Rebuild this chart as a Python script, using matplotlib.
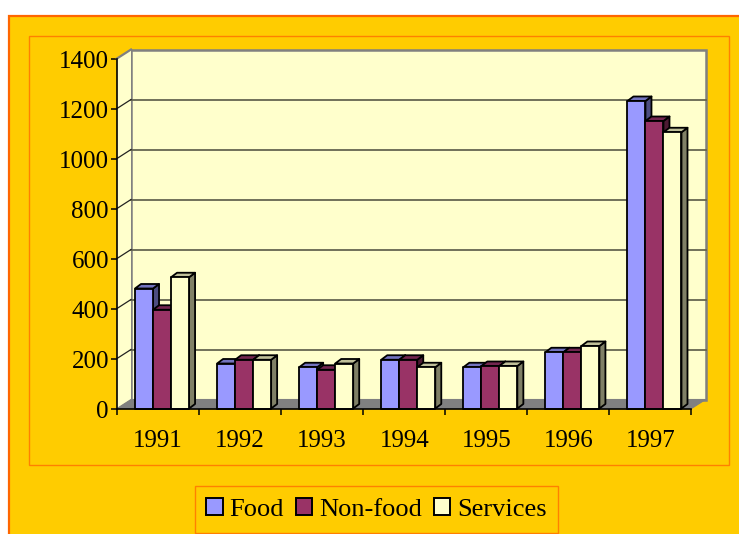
"""Excel-style pseudo 3D clustered bars: food, non-food, services."""

import matplotlib

matplotlib.use("Agg")
import matplotlib.pyplot as plt
from matplotlib.patches import Patch, Polygon, Rectangle
from matplotlib.transforms import Affine2D

years = ["1991", "1992", "1993", "1994", "1995", "1996", "1997"]
food = [480, 180, 165, 195, 165, 225, 1230]
non_food = [395, 195, 155, 195, 170, 225, 1150]
services = [525, 195, 180, 165, 170, 250, 1105]
series_names = ["Food", "Non-food", "Services"]
y_ticks = [0, 200, 400, 600, 800, 1000, 1200, 1400]

W, H = 739, 534
YELLOW = "#FFCC00"
CREAM = "#FFFFCC"
GREY = "#808080"
FACE = ["#9999FF", "#993366", "#FFFFCC"]
TOP = ["#7373BF", "#732650", "#BFBF99"]
SIDE = ["#4D4D80", "#4D1A33", "#808066"]

plt.rcParams["font.family"] = ["Liberation Serif", "DejaVu Serif"]


def px_rect(x0, y0, x1, y1, **kw):
    # pixel box, y measured from the top of the image
    return Rectangle((x0 / W, 1 - y1 / H), (x1 - x0) / W, (y1 - y0) / H,
                     transform=fig.transFigure, zorder=-1, **kw)


fig = plt.figure(figsize=(W / 100, H / 100), dpi=100, facecolor="white")
fig.add_artist(px_rect(9, 15.5, W + 5, H + 5, facecolor=YELLOW, edgecolor="#FF6600", linewidth=1.6))
fig.add_artist(px_rect(29, 35.5, 728.5, 464.5, facecolor="none", edgecolor="#FF8000", linewidth=1))

ax = fig.add_axes([117 / W, 1 - 408.5 / H, 574.5 / W, 350 / H])
ax.set_xlim(0, 7)
ax.set_ylim(0, 1400)
ax.patch.set_visible(False)

# depth of the box and of one bar, in data units
box_dx, box_dy = 14 / 82, 36
bar_dx, bar_dy = 6 / 82, 18
bar_w = 18 / 82


def poly(points, **kw):
    ax.add_patch(Polygon(points, closed=True, clip_on=False, **kw))


# walls and floor
poly([(box_dx, box_dy), (7 + box_dx, box_dy), (7 + box_dx, 1400 + box_dy), (box_dx, 1400 + box_dy)],
     facecolor=CREAM, edgecolor=GREY, linewidth=1.8, zorder=1)
poly([(0, 0), (box_dx, box_dy), (box_dx, 1400 + box_dy), (0, 1400)],
     facecolor=CREAM, edgecolor="none", zorder=1)
poly([(0, 0), (7, 0), (7 + box_dx, box_dy), (box_dx, box_dy)],
     facecolor=GREY, edgecolor=GREY, linewidth=0.8, zorder=1.5)

for v in y_ticks[1:-1]:
    ax.plot([box_dx, 7 + box_dx], [v + box_dy] * 2, color="#666650", linewidth=1.3, zorder=2, clip_on=False)
    ax.plot([0, box_dx], [v, v + box_dy], color="#222222", linewidth=0.9, zorder=2, clip_on=False)
ax.plot([0, box_dx], [1400, 1400 + box_dy], color=GREY, linewidth=1.6, zorder=2, clip_on=False)

# bars, left to right so each one overlaps the side of the previous
z = 3.0
for i in range(len(years)):
    for k, values in enumerate([food, non_food, services]):
        v = values[i]
        x0 = i + 18 / 82 + k * bar_w
        x1 = x0 + bar_w
        line = dict(edgecolor="black", linewidth=1.3, joinstyle="round")
        poly([(x1, 0), (x1 + bar_dx, bar_dy), (x1 + bar_dx, v + bar_dy), (x1, v)],
             facecolor=SIDE[k], zorder=z, **line)
        poly([(x0, v), (x1, v), (x1 + bar_dx, v + bar_dy), (x0 + bar_dx, v + bar_dy)],
             facecolor=TOP[k], zorder=z, **line)
        ax.bar(x0, v, width=bar_w, align="edge", color=FACE[k], zorder=z + 0.01, clip_on=False, **line)
        z += 0.1

for name in ("top", "right"):
    ax.spines[name].set_visible(False)
for name in ("left", "bottom"):
    ax.spines[name].set_linewidth(1.2)
    ax.spines[name].set_zorder(50)

ax.set_yticks(y_ticks)
ax.set_xticks(range(8))
ax.set_xticklabels([])
ax.set_xticks([i + 0.5 for i in range(7)], labels=years, minor=True)
ax.tick_params(axis="x", which="major", length=4.3, width=1.1, direction="out")
ax.tick_params(axis="x", which="minor", length=0, pad=15.5, labelsize=18)
ax.tick_params(axis="y", length=4.3, width=1.1, pad=1.5, labelsize=18)
for lbl in ax.get_yticklabels():
    lbl.set_transform(lbl.get_transform() + Affine2D().translate(0, -1.5))

handles = [Patch(facecolor=c, edgecolor="black", linewidth=1.4) for c in FACE]
leg = fig.legend(handles, series_names, loc="center", ncol=3, fontsize=19,
                 bbox_to_anchor=(376.5 / W, 1 - 509.5 / H),
                 handlelength=0.62, handleheight=0.62, handletextpad=0.25,
                 columnspacing=0.46, borderpad=0.44, borderaxespad=0,
                 fancybox=False, facecolor="none", framealpha=1, edgecolor="#FF8000")
leg.get_frame().set_linewidth(1)

fig.savefig("out.png", dpi=100, facecolor="white")
